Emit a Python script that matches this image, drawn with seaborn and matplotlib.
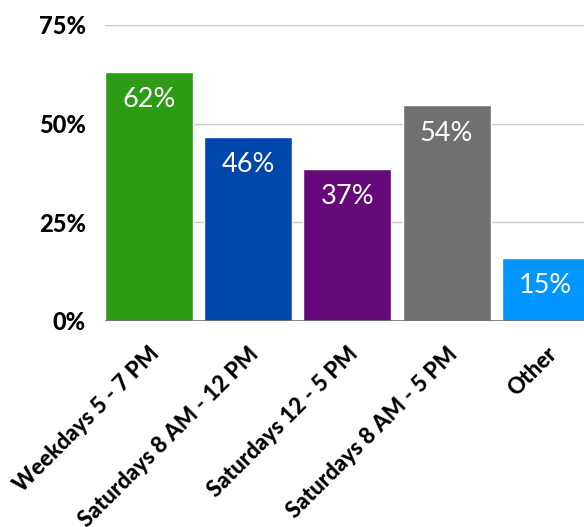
import numpy as np
import pandas as pd
import matplotlib.pyplot as plt
import seaborn as sns

categories = ['Weekdays 5 - 7 PM', 'Saturdays 8 AM - 12 PM', 'Saturdays 12 - 5 PM',
              'Saturdays 8 AM - 5 PM', 'Other']
heights = [63.1, 46.6, 38.5, 54.6, 16.0]
labels = ['62%', '46%', '37%', '54%', '15%']
colors = ['#2E9B17', '#0047AB', '#660A7B', '#707070', '#0095FF']
yticks = [0, 25, 50, 75]

df = pd.DataFrame({'cat': categories, 'val': heights})

sns.set_style('white')
plt.rcParams['font.family'] = ['Lato', 'DejaVu Sans']

fig = plt.figure(figsize=(5.84, 5.27), dpi=100)
ax = fig.add_axes([0.18, 0.391, 0.82, 0.5616])

sns.barplot(data=df, x='cat', y='val', hue='cat', palette=colors, legend=False,
            width=0.887, saturation=1, ax=ax, zorder=3)

# gridlines
for t in yticks[1:]:
    ax.axhline(t, color='#C8C8C8', lw=1, zorder=1)
ax.axhline(0, color='#707070', lw=1.2, zorder=4)

for i, (h, lab) in enumerate(zip(heights, labels)):
    ax.annotate(lab, (i, h), xytext=(0, -20), textcoords='offset points',
                ha='center', va='center', color='white', fontsize=19.5)

ax.set_ylim(0, 75)
ax.set_xlim(-0.44, 4.385)
ax.set_yticks(yticks)
ax.set_yticklabels([f'{t}%' for t in yticks], fontsize=17, fontweight='black', color='black')
ax.tick_params(axis='y', length=0, pad=14)
ax.tick_params(axis='x', length=0, pad=16)
ax.set_xticks(range(len(categories)))
ax.set_xticklabels(categories, rotation=45, ha='right', va='top',
                   rotation_mode='anchor', fontsize=16, fontweight='black', color='black')
ax.set_xlabel('')
ax.set_ylabel('')
sns.despine(ax=ax, left=True, bottom=True)

fig.savefig('out.png', dpi=100)
